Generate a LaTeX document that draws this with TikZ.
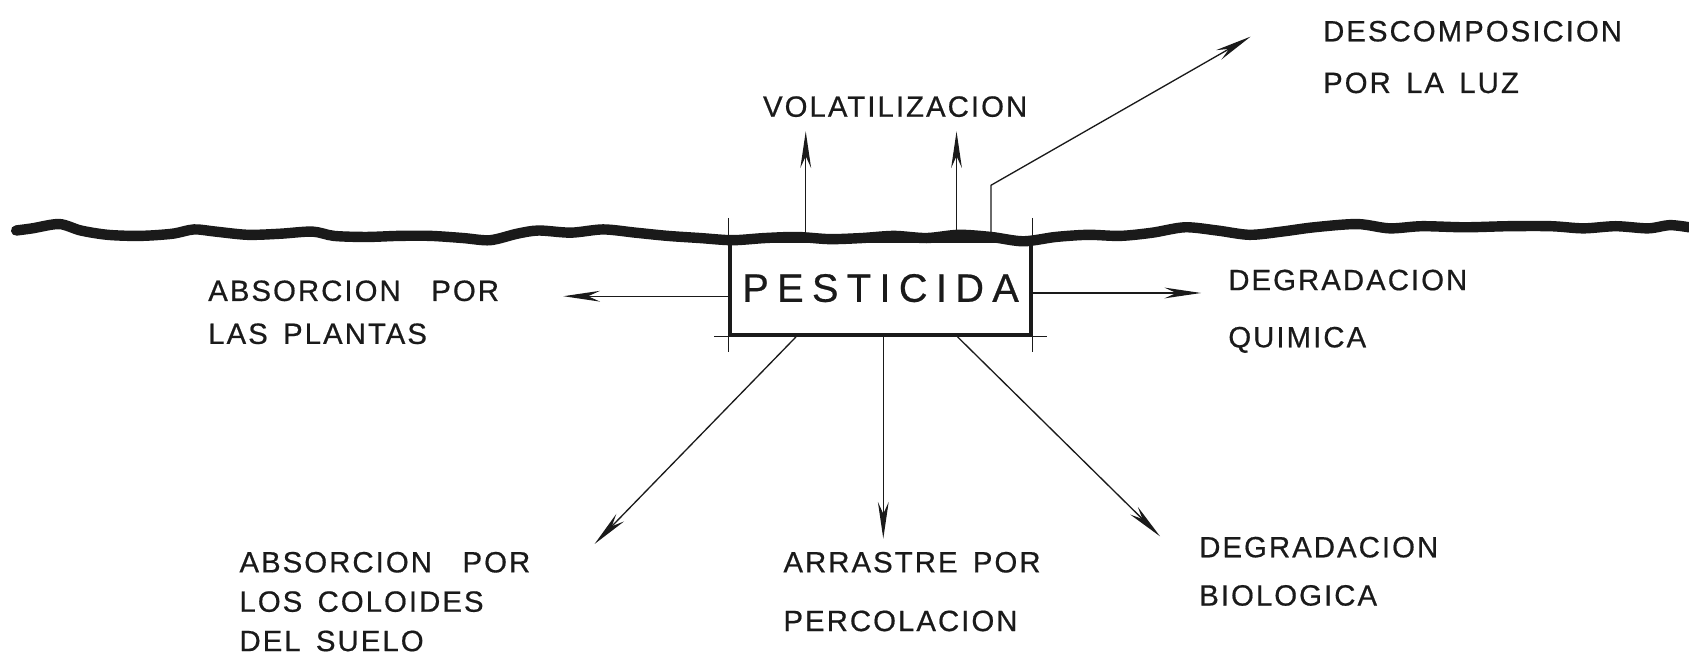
\documentclass[tikz,border=0pt]{standalone}
\usepackage{fontspec}
\usepackage{tikz}
\usetikzlibrary{calc,arrows.meta,positioning}
\newfontfamily\letra[LetterSpace=7, WordSpace=1.5, FakeBold=0.6]{Liberation Sans}
\newfontfamily\letrag[LetterSpace=21, FakeBold=0.6]{Liberation Sans}
\definecolor{ink}{HTML}{1A1A1A}
\tikzset{
  ground/.style={draw=ink, line width=5.5pt, line cap=round, line join=round},
  caja/.style={draw=ink, line width=2pt, minimum width=5.58cm, minimum height=1.74cm,
    inner sep=0pt, font=\letrag\fontsize{21}{24}\selectfont, text=ink},
  fine/.style={draw=ink, line width=0.6pt},
  arr/.style={draw=ink, line width=0.7pt, -{Stealth[length=0.68cm, width=0.2cm]}},
  lab/.style={text=ink, inner sep=0pt, anchor=north west, align=left,
    font=\letra\fontsize{15.5}{#1}\selectfont},
  lab/.default=24pt,
}
\begin{document}
\begin{tikzpicture}[x=0.02cm, y=-0.02cm]
\useasboundingbox (0,0) rectangle (1568,617);

% superficie del suelo
\draw[ground] plot[smooth, tension=0.5] coordinates {(15,214) (30,212) (55,208) (75,214)
  (100,218) (130,219) (160,217) (180,213) (200,215) (230,218) (260,217) (290,215)
  (310,219) (340,220) (370,219) (400,219) (430,221) (455,223) (480,217) (500,214)
  (530,216) (560,213) (590,216) (620,219) (650,221) (680,223) (710,221) (740,220)
  (770,222) (800,221) (830,219) (860,221) (890,218) (920,220) (950,224) (980,220)
  (1010,218) (1040,219) (1070,216) (1100,211) (1130,214) (1160,218) (1190,215)
  (1220,211) (1260,208) (1290,212) (1320,210) (1360,211) (1400,210) (1440,210)
  (1470,212) (1500,210) (1530,212) (1550,209) (1568,211)};

% pesticida
\node[caja] (pest) at (817.5,267.5) {PESTICIDA};
\draw[fine] ($(pest.north west)+(0,-20)$) -- ($(pest.south west)+(0,14)$);
\draw[fine] ($(pest.north east)+(0,-20)$) -- ($(pest.south east)+(0,14)$);
\draw[fine] ($(pest.south west)+(-13,0)$) -- ($(pest.south east)+(13,0)$);

% extremos de las flechas
\coordinate (vol1) at (748,122);
\coordinate (vol2) at (888,122);
\coordinate (luz0) at (920,172);
\coordinate (luz) at (1161,34);
\coordinate (plan) at (523,275);
\coordinate (quim) at (1115,272);
\coordinate (colo) at (552,505);
\coordinate (perc) at (820,500);
\coordinate (biol) at (1077,498);

% textos
\node[text=ink, inner sep=0pt, font=\letra\fontsize{15.5}{20}\selectfont] (tvol) at (831,99) {VOLATILIZACION};
\node[lab=27.3pt] (tluz) at (1228,19) {DESCOMPOSICION\\POR LA LUZ};
\node[lab=22.7pt] (tplan) at (193,260) {ABSORCION\ \ POR\\LAS PLANTAS};
\node[lab=30.2pt] (tquim) at (1140,250) {DEGRADACION\\QUIMICA};
\node[lab=20.8pt] (tcolo) at (222,512) {ABSORCION\ \ POR\\LOS COLOIDES\\DEL SUELO};
\node[lab=31pt] (tperc) at (727,512) {ARRASTRE POR\\PERCOLACION};
\node[lab=25.5pt] (tbiol) at (1113,498) {DEGRADACION\\BIOLOGICA};

% flechas
\draw[arr] (pest.north -| vol1) -- (vol1);
\draw[arr] (pest.north -| vol2) -- (vol2);
\draw[arr] (pest.north -| luz0) -- (luz0) -- (luz);
\draw[arr] (pest.west |- plan) -- (plan);
\draw[arr] (pest.east |- quim) -- (quim);
\draw[arr] ($(pest.south west)!0.222!(pest.south east)$) -- (colo);
\draw[arr] (pest.south -| perc) -- (perc);
\draw[arr] ($(pest.south west)!0.753!(pest.south east)$) -- (biol);
\end{tikzpicture}
\end{document}
